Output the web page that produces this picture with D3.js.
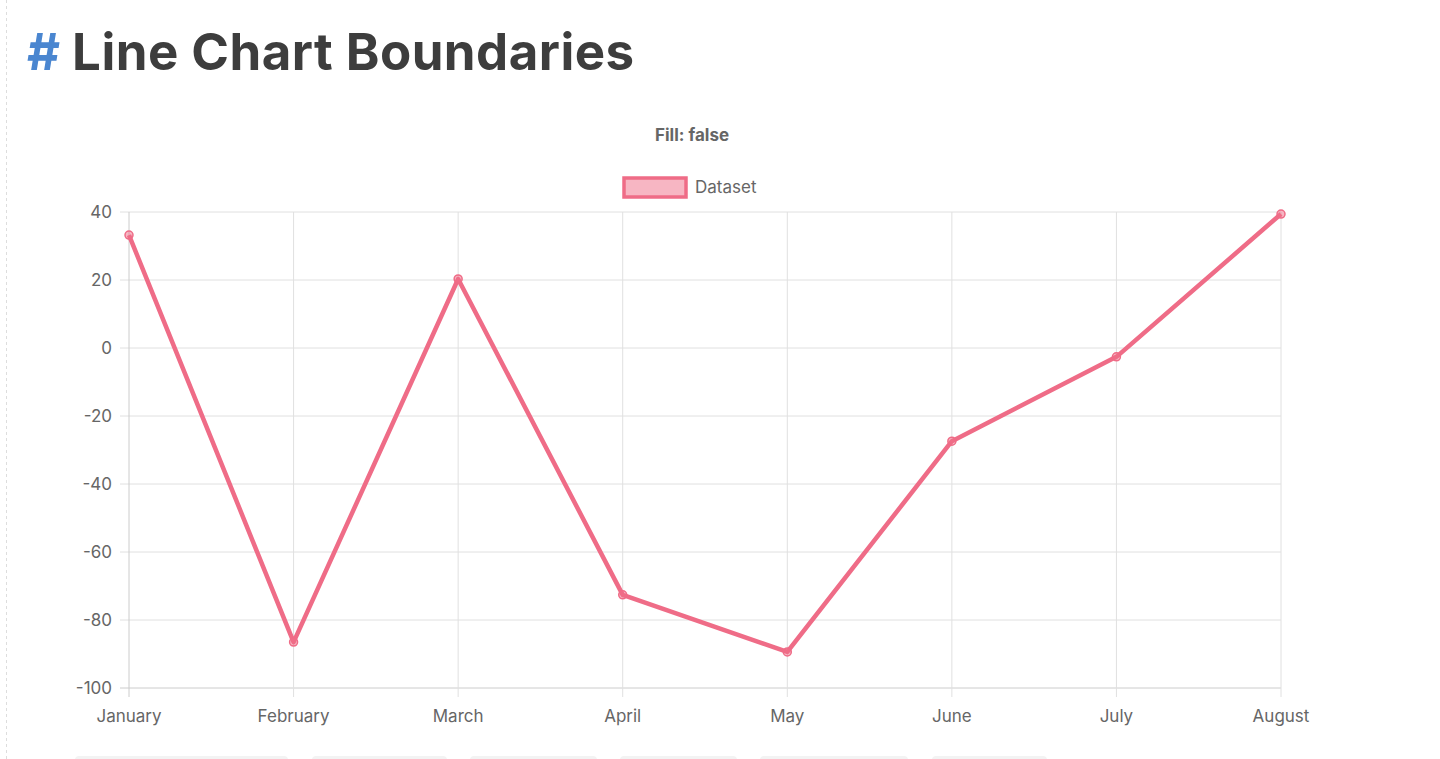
<!DOCTYPE html>
<html><head><meta charset="utf-8">
<script src="https://cdn.jsdelivr.net/npm/d3@7"></script>
<style>body{margin:0;background:#fff;font-family:Inter,"Noto Sans",sans-serif;overflow:hidden}</style>
</head><body>
<svg id="c" width="1440" height="759"></svg>
<script>
const categories=["January","February","March","April","May","June","July","August"];
const values=[33.2,-86.5,20.3,-72.6,-89.4,-27.4,-2.6,39.4];
const yTicks=[40,20,0,-20,-40,-60,-80,-100];
const svg=d3.select("#c");
svg.append("line").attr("x1",6.5).attr("x2",6.5).attr("y1",0).attr("y2",759).attr("stroke","#ddd").attr("stroke-dasharray","3,3");
const t=svg.append("text").attr("x",27).attr("y",70).attr("font-size",51).attr("font-weight",700).attr("fill","#3d3d3d");
t.append("tspan").attr("fill","#4a86d0").text("#");
t.append("tspan").attr("dx",12).attr("textLength",562).text("Line Chart Boundaries");
svg.append("text").attr("x",692).attr("y",141).attr("text-anchor","middle").attr("font-size",17).attr("font-weight",700).attr("fill","#666").text("Fill: false");
svg.append("rect").attr("x",624).attr("y",178).attr("width",62).attr("height",19).attr("fill","rgba(240,110,135,0.5)").attr("stroke","#ef6c87").attr("stroke-width",3.5);
svg.append("text").attr("x",695).attr("y",193).attr("font-size",17).attr("fill","#666").text("Dataset");
const x=d3.scalePoint().domain(categories).range([129,1281]);
const y=d3.scaleLinear().domain([-100,40]).range([688,212]);
const g=svg.append("g");
yTicks.forEach(v=>{g.append("line").attr("x1",120).attr("x2",1281).attr("y1",y(v)).attr("y2",y(v)).attr("stroke",v===-100?"#ccc":"#e0e0e0");
 g.append("text").attr("x",112).attr("y",y(v)+6).attr("text-anchor","end").attr("font-size",17).attr("fill","#666").text(v);});
categories.forEach(c=>{g.append("line").attr("x1",x(c)).attr("x2",x(c)).attr("y1",212).attr("y2",697).attr("stroke",c==="January"?"#ccc":"#e0e0e0");
 g.append("text").attr("x",x(c)).attr("y",722).attr("text-anchor","middle").attr("font-size",17).attr("fill","#666").text(c);});
g.append("path").datum(values).attr("fill","none").attr("stroke","#ef6c87").attr("stroke-width",4.5).attr("stroke-linejoin","round")
 .attr("d",d3.line().x((d,i)=>x(categories[i])).y(d=>y(d)));
g.selectAll("circle").data(values).join("circle").attr("cx",(d,i)=>x(categories[i])).attr("cy",d=>y(d)).attr("r",4)
 .attr("fill","rgba(240,110,135,0.5)").attr("stroke","#ef6c87").attr("stroke-width",1.5);
[[75,288],[312,447],[470,597],[620,737],[760,908],[932,1047]].forEach(([a,b])=>svg.append("rect").attr("x",a).attr("y",756).attr("width",b-a).attr("height",10).attr("rx",4).attr("fill","#f3f3f3"));
</script></body></html>
